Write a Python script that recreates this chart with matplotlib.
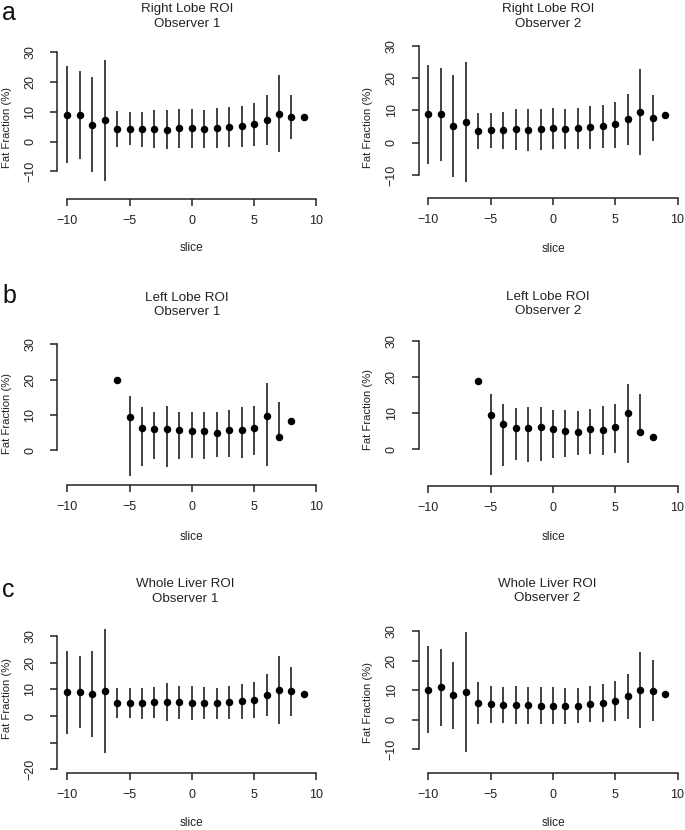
"""Fat fraction per slice (mean and bar) for three ROIs and two observers."""
import numpy as np
import matplotlib
matplotlib.use('Agg')
import matplotlib.pyplot as plt

plt.rcParams['font.family'] = ['Liberation Sans', 'DejaVu Sans']

# ---------------------------------------------------------------------------
# Data
# ---------------------------------------------------------------------------
slices_full = [-10, -9, -8, -7, -6, -5, -4, -3, -2, -1, 0, 1, 2, 3, 4, 5, 6, 7, 8, 9]
slices_left = [-6, -5, -4, -3, -2, -1, 0, 1, 2, 3, 4, 5, 6, 7, 8]
nan = np.nan

# a: Right lobe
right_obs1_mean = [9.1, 8.9, 5.6, 7.2, 4.3, 4.3, 4.1, 4.2, 4.0, 4.6, 4.6, 4.3, 4.7, 5.0, 5.3, 5.8, 7.3, 9.4, 8.3, 8.3]
right_obs1_lo = [-7.2, -5.8, -10.3, -13.1, -1.7, -1.2, -1.8, -2.1, -2.6, -2.0, -2.0, -2.0, -2.0, -1.7, -1.7, -1.4, -1.0, -3.6, 0.8, nan]
right_obs1_hi = [25.3, 23.6, 21.7, 27.4, 10.4, 9.9, 10.0, 10.7, 10.8, 10.9, 11.0, 10.7, 11.2, 11.6, 12.1, 13.1, 15.6, 22.4, 15.8, nan]

right_obs2_mean = [8.8, 8.8, 5.3, 6.4, 3.6, 4.0, 3.8, 4.1, 4.0, 4.3, 4.4, 4.3, 4.6, 4.8, 5.2, 5.7, 7.3, 9.6, 7.8, 8.5]
right_obs2_lo = [-6.6, -5.6, -10.5, -12.1, -2.0, -1.5, -1.9, -2.4, -2.7, -2.2, -2.1, -2.0, -2.0, -1.9, -1.6, -1.5, -0.8, -3.8, 0.4, nan]
right_obs2_hi = [24.2, 23.2, 21.1, 25.1, 9.1, 9.1, 9.5, 10.4, 10.4, 10.4, 10.8, 10.4, 10.8, 11.3, 11.8, 12.7, 15.1, 22.8, 14.9, nan]

# b: Left lobe
left_obs1_mean = [19.8, 9.4, 6.3, 5.9, 5.9, 5.6, 5.5, 5.5, 4.8, 5.6, 5.6, 6.2, 9.7, 3.7, 8.4]
left_obs1_lo = [nan, -7.4, -4.4, -2.5, -4.6, -2.5, -2.2, -2.4, -1.8, -1.8, -2.2, -1.3, -4.3, 3.7, nan]
left_obs1_hi = [nan, 15.3, 12.3, 10.7, 12.6, 10.9, 10.8, 10.8, 10.7, 11.3, 12.1, 12.6, 18.9, 13.7, nan]

left_obs2_mean = [18.8, 9.5, 6.9, 5.9, 5.7, 6.0, 5.5, 5.1, 4.7, 5.5, 5.4, 6.1, 10.0, 4.6, 3.2]
left_obs2_lo = [nan, -7.3, -4.7, -3.0, -3.6, -3.2, -2.4, -2.3, -1.7, -1.5, -1.7, -1.2, -3.8, 4.6, nan]
left_obs2_hi = [nan, 15.3, 12.6, 11.4, 11.6, 11.7, 10.9, 10.7, 10.5, 11.0, 11.8, 12.5, 18.1, 15.1, nan]

# c: Whole liver
whole_obs1_mean = [8.9, 9.1, 8.3, 9.25, 5.0, 5.0, 4.75, 5.1, 5.1, 5.1, 5.0, 4.9, 4.75, 5.1, 5.6, 6.0, 7.9, 9.75, 9.25, 8.25]
whole_obs1_lo = [-6.6, -4.5, -7.9, -13.9, -0.6, -0.6, -1.0, -0.9, -2.0, -1.25, -1.6, -1.25, -1.0, -1.0, -1.0, -0.75, 0.1, -3.0, 0.1, nan]
whole_obs1_hi = [24.5, 22.6, 24.3, 32.8, 10.5, 10.5, 10.5, 11.0, 12.25, 11.4, 11.4, 10.75, 10.5, 11.25, 11.9, 12.9, 15.6, 22.4, 18.25, nan]

whole_obs2_mean = [10.1, 11.0, 8.2, 9.4, 5.7, 5.3, 5.1, 5.1, 4.85, 4.7, 4.7, 4.5, 4.7, 5.2, 5.5, 6.2, 7.9, 10.0, 9.8, 8.7]
whole_obs2_lo = [-4.6, -2.0, -3.2, -11.0, -1.6, -1.0, -1.2, -1.35, -1.6, -1.5, -1.3, -1.3, -1.1, -0.9, -0.9, -0.6, 0.4, -2.8, -0.6, nan]
whole_obs2_hi = [25.0, 23.9, 19.6, 29.5, 12.9, 11.5, 11.2, 11.5, 11.2, 11.0, 11.0, 10.7, 10.8, 11.5, 12.0, 13.0, 15.5, 23.0, 20.1, nan]

x_ticks = [-10, -5, 0, 5, 10]

W, H = 685, 830
fig = plt.figure(figsize=(W / 100, H / 100), dpi=100)


def fx(px):
    return px / W


def fy(py):
    return 1 - py / H


def panel(slices, mean, lo, hi, title, yticks, ylabels, geo, title_xy, xlab_xy, ylab_xy):
    """geo = (x of y-axis, y of x-axis, pixel of y=0, pixels per unit), all in figure pixels."""
    ax_x, ax_y, p0, ppu = geo
    width, height = 269, 158
    ax = fig.add_axes([fx(ax_x), fy(ax_y), width / W, height / H])
    ax.set_xlim(-10.8, 10.8)
    ax.set_ylim((p0 - ax_y) / ppu, (p0 - ax_y + height) / ppu)

    s = np.array(slices, dtype=float)
    lo = np.array(lo, dtype=float)
    hi = np.array(hi, dtype=float)
    ok = ~np.isnan(lo)
    ax.vlines(s[ok], lo[ok], hi[ok], color='#333333', linewidth=1.3, zorder=2)
    ax.plot(s, mean, 'o', color='black', markersize=4.4, zorder=3)

    for side in ('top', 'right'):
        ax.spines[side].set_visible(False)
    for side in ('left', 'bottom'):
        ax.spines[side].set_linewidth(1.1)
        ax.spines[side].set_color('#222222')
    ax.spines['left'].set_bounds(yticks[0], yticks[-1])
    ax.spines['bottom'].set_bounds(x_ticks[0], x_ticks[-1])

    ax.set_xticks(x_ticks)
    ax.set_yticks(yticks)
    ax.set_yticklabels(ylabels, rotation=90, va='center')
    ax.tick_params(axis='both', direction='out', length=5, width=1.1,
                   color='#222222', labelsize=9, labelcolor='#222222')
    ax.tick_params(axis='x', pad=6.5)
    ax.tick_params(axis='y', pad=10)

    ax.set_xlabel('slice', fontsize=8.6, color='#222222', va='center')
    ax.xaxis.set_label_coords(fx(xlab_xy[0]), fy(xlab_xy[1]), transform=fig.transFigure)
    ax.set_ylabel('Fat Fraction (%)', fontsize=8.1, color='#222222', va='center')
    ax.yaxis.set_label_coords(fx(ylab_xy[0]), fy(ylab_xy[1]), transform=fig.transFigure)

    fig.text(fx(title_xy[0]), fy(title_xy[1]), title, ha='center', va='center',
             multialignment='center', fontsize=9.6, linespacing=1.25, color='#222222')
    return ax


yt_a = [-10, 0, 10, 20, 30]
yt_b = [0, 10, 20, 30]
yt_c1 = [-20, -10, 0, 10, 20, 30]
yt_c2 = [-10, 0, 10, 20, 30]

# ── a: Right lobe ─────────────────────────────────────────────────────────
panel(slices_full, right_obs1_mean, right_obs1_lo, right_obs1_hi,
      'Right Lobe ROI\nObserver 1', yt_a, ['\u221210', '0', '10', '20', '30'],
      (57.3, 199.3, 141.7, 2.98), (187, 16.5), (191.7, 248), (7, 127))
panel(slices_full, right_obs2_mean, right_obs2_lo, right_obs2_hi,
      'Right Lobe ROI\nObserver 2', yt_a, ['\u221210', '0', '10', '20', '30'],
      (418.5, 197.7, 142.7, 3.23), (548, 16.5), (553, 249), (368, 127))

# ── b: Left lobe ──────────────────────────────────────────────────────────
panel(slices_left, left_obs1_mean, left_obs1_lo, left_obs1_hi,
      'Left Lobe ROI\nObserver 1', yt_b, ['0', '10', '20', '30'],
      (57.3, 485, 450.3, 3.54), (187, 305), (191.7, 536.7), (7, 413))
panel(slices_left, left_obs2_mean, left_obs2_lo, left_obs2_hi,
      'Left Lobe ROI\nObserver 2', yt_b, ['0', '10', '20', '30'],
      (418.5, 486, 449, 3.61), (548, 304), (553, 536.7), (368, 410))

# ── c: Whole liver ────────────────────────────────────────────────────────
panel(slices_full, whole_obs1_mean, whole_obs1_lo, whole_obs1_hi,
      'Whole Liver ROI\nObserver 1', yt_c1, ['\u221220', '', '0', '10', '20', '30'],
      (57.3, 772.7, 716, 2.667), (185, 591.5), (191.7, 823), (7, 698))
panel(slices_full, whole_obs2_mean, whole_obs2_lo, whole_obs2_hi,
      'Whole Liver ROI\nObserver 2', yt_c2, ['\u221210', '0', '10', '20', '30'],
      (418.5, 772.7, 719.7, 2.96), (547, 591), (553, 823), (368, 702))

# panel letters
for letter, py in (('a', 20), ('b', 303), ('c', 597)):
    fig.text(fx(2), fy(py), letter, fontsize=18, ha='left', va='baseline', color='#111111')

fig.savefig('out.png', dpi=100)
